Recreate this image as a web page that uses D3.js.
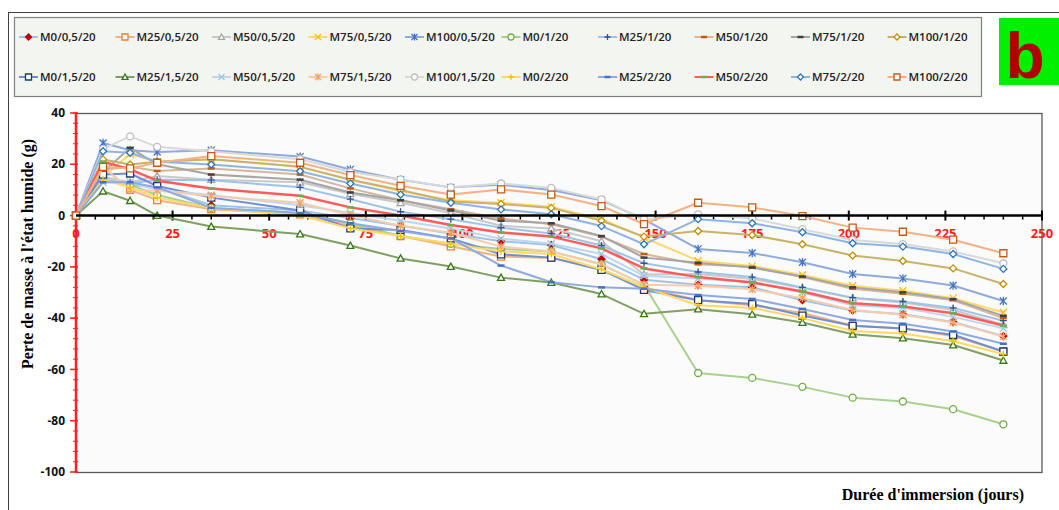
<!DOCTYPE html>
<html>
<head>
<meta charset="utf-8">
<script src="https://cdn.jsdelivr.net/npm/d3@7"></script>
<style>
  body { margin: 0; background: #fff; }
  svg { display: block; }
</style>
</head>
<body>
<div id="chart"></div>
<script>
// immersion days (x) and the 20 series
const days = [0, 7, 14, 21, 35, 58, 71, 84, 97, 110, 123, 136, 147, 161, 175, 188, 201, 214, 227, 240];

const seriesNames = [
  "M0/0,5/20", "M25/0,5/20", "M50/0,5/20", "M75/0,5/20", "M100/0,5/20",
  "M0/1/20", "M25/1/20", "M50/1/20", "M75/1/20", "M100/1/20",
  "M0/1,5/20", "M25/1,5/20", "M50/1,5/20", "M75/1,5/20", "M100/1,5/20",
  "M0/2/20", "M25/2/20", "M50/2/20", "M75/2/20", "M100/2/20"
];

const m0_05   = [0, 14, 12, 11, 4, 2, -1, -4, -7, -10, -11.5, -17, -25, -27, -28, -33, -37, -38.5, -41.5, -47];
const m25_05  = [0, 19, 10, 6, 2.5, 0.5, -4, -8, -12, -16, -16.5, -21, -28, -33, -35, -38, -43, -44, -47, -53];
const m50_05  = [0, 15, 13, 15.4, 14, 13, 8.5, 5, 1, -4, -5, -10, -23, -22.8, -24.7, -28.3, -32.2, -33.9, -36.8, -42.6];
const m75_05  = [0, 15, 24, 21, 22, 19, 14, 9.5, 6, 5, 3.4, -1.4, -8.6, -17.6, -19.7, -23.2, -27.4, -29.3, -32.2, -37.8];
const m100_05 = [0, 28.3, 25.5, 24.8, 25.5, 23, 18, 14, 11, 12, 10, 6, -1.5, -13, -14.6, -18.2, -22.8, -24.5, -27.3, -33.3];
const m0_1    = [0, 14, 12, 8, 3, 1, -3, -8, -11, -13, -14, -19, -27, -61.4, -63.3, -66.8, -71, -72.5, -75.5, -81.4];
const m25_1   = [0, 14, 12.5, 14, 13.8, 11, 6.4, 1.5, -1.4, -4.7, -7, -11.7, -18.6, -22, -24, -28, -32, -33.5, -36, -41];
const m50_1   = [0, 18, 19, 17.4, 18.4, 16, 10.6, 6, 2.5, -1.1, -3.4, -8.2, -15, -19, -20, -24, -28.5, -30.5, -33, -40];
const m75_1   = [0, 17, 26.4, 20, 16, 14, 9, 6, 2, -2, -3, -8, -16.4, -18.4, -20.3, -23.8, -28, -29.9, -32.6, -39.1];
const m100_1  = [0, 21.9, 19.9, 21, 22, 19, 14, 10, 5.5, 4.5, 3, -2, -8.2, -6, -7.6, -11.2, -15.6, -17.7, -20.6, -26.7];
const m0_15   = [0, 16, 16.4, 11.5, 7, 2, -5, -5.6, -8.9, -15.1, -16.4, -21.2, -29, -33, -34.5, -39, -43, -44, -46.5, -53];
const m25_15  = [0, 9.5, 5.8, 0, -4.3, -7.2, -11.7, -16.7, -19.9, -24.2, -26.1, -30.6, -38.3, -36.5, -38.5, -41.7, -46.3, -47.8, -50.5, -56.5];
const m50_15  = [0, 13, 13, 10, 8, 4, 1, -2, -5, -9, -11, -15, -23.5, -24.5, -26, -30, -35, -36, -39.5, -44];
const m75_15  = [0, 19, 10, 9.7, 7.6, 5, 0.2, -4, -6.7, -12.1, -14, -19, -27, -27.4, -28.7, -32.2, -36.8, -38.7, -41.7, -47.2];
const m100_15 = [0, 26, 30.9, 26.8, 25, 22, 17, 14.1, 11, 12.5, 10.8, 6.3, -1.5, 0.5, -1.1, -5.3, -9.5, -11.1, -14, -18.6];
const m0_2    = [0, 14, 11, 7, 3, 0, -5, -8, -11, -14, -15, -21, -28, -35, -36, -40, -45, -46, -49, -54];
const m25_2   = [0, 13, 13, 11, 3, 1, -3, -6, -8.9, -19.5, -26, -28, -28.5, -31, -32.5, -36.4, -40.7, -42.2, -45.2, -50];
const m50_2   = [0, 21, 18, 13.6, 10.6, 7.7, 3.2, 0, -3.7, -6.6, -8.2, -12.8, -20.6, -24, -26.1, -29.6, -34.2, -35.5, -38.1, -42.9];
const m75_2   = [0, 25.1, 24.5, 21, 19.9, 17.3, 12.5, 8.2, 5, 2.4, 0.5, -4.1, -11.2, -1.4, -3, -6.5, -10.8, -12.1, -15, -20.8];
const m100_2  = [0, 19, 18.4, 20.6, 23.2, 20.6, 15.8, 11.6, 8.2, 10.2, 8.2, 3.7, -3.3, 5, 3.2, -0.2, -4.7, -6.3, -9.4, -14.7];

const seriesValues = [m0_05, m25_05, m50_05, m75_05, m100_05, m0_1, m25_1, m50_1, m75_1, m100_1,
                      m0_15, m25_15, m50_15, m75_15, m100_15, m0_2, m25_2, m50_2, m75_2, m100_2];

// line colour, marker colour, marker shape
const lineColors = ["#9dc3e6", "#f4b183", "#c9c9c9", "#ffd966", "#8faadc", "#a9d18e", "#9dc3e6", "#d6b59a", "#a5a5a5", "#c9b26b",
                    "#6f8fd0", "#7f9f63", "#bdd7ee", "#f8cbad", "#d9d9d9", "#ffd966", "#8faadc", "#ff5b5b", "#8fb4e3", "#f4b183"];
const markerColors = ["#c00000", "#ed7d31", "#a5a5a5", "#ffc000", "#4472c4", "#70ad47", "#2f5597", "#c55a11", "#404040", "#bf9000",
                      "#1f3864", "#38761d", "#9dc3e6", "#f4a460", "#bfbfbf", "#ffc000", "#4472c4", "#70ad47", "#2e75b6", "#c55a11"];
const markerShapes = ["diamondFill", "square", "triangle", "x", "star", "circle", "plus", "dash", "dash", "diamond",
                      "square", "triangle", "x", "star", "circle", "plus", "dash", "dash", "diamond", "square"];

const xTicks = [0, 25, 50, 75, 100, 125, 150, 175, 200, 225, 250];
const yTicks = [40, 20, 0, -20, -40, -60, -80, -100];

const width = 1059, height = 510;
const plotLeft = 76, plotRight = 1042, plotTop = 113, plotBottom = 472;

const svg = d3.select("#chart").append("svg")
  .attr("width", width)
  .attr("height", height);

const x = d3.scaleLinear().domain([0, 250]).range([plotLeft, plotRight]);
const y = d3.scaleLinear().domain([-100, 40]).range([plotBottom, plotTop]);

// outer frame
svg.append("rect")
  .attr("x", 8.5).attr("y", 12.5)
  .attr("width", 1060).attr("height", 520)
  .attr("fill", "#fff").attr("stroke", "#404040").attr("stroke-width", 1);

// legend box
svg.append("rect")
  .attr("x", 14.5).attr("y", 17.5)
  .attr("width", 967).attr("height", 79)
  .attr("fill", "#f3f5f0").attr("stroke", "#7f7f7f").attr("stroke-width", 1.2);

// "b" panel tag
svg.append("rect")
  .attr("x", 999).attr("y", 18).attr("width", 60).attr("height", 67)
  .attr("fill", "#00f000");
svg.append("text")
  .attr("x", 1025).attr("y", 78)
  .attr("text-anchor", "middle")
  .attr("font-family", "Liberation Sans, Arial, sans-serif")
  .attr("font-weight", "bold")
  .attr("font-size", 64)
  .attr("fill", "#b00000")
  .text("b");

// plot area
svg.append("rect")
  .attr("x", plotLeft).attr("y", plotTop + 0.5)
  .attr("width", plotRight - plotLeft).attr("height", plotBottom - plotTop)
  .attr("fill", "#fbfbfb").attr("stroke", "#595959").attr("stroke-width", 1.3);

function markerPath(shape, s) {
  switch (shape) {
    case "x": return `M${-s},${-s}L${s},${s}M${-s},${s}L${s},${-s}`;
    case "plus": return `M${-s},0L${s},0M0,${-s}L0,${s}`;
    case "star": return `M${-s},${-s}L${s},${s}M${-s},${s}L${s},${-s}M0,${-s * 1.2}L0,${s * 1.2}`;
    case "dash": return `M${-s},0L${s},0`;
    case "square": return `M${-s},${-s}H${s}V${s}H${-s}Z`;
    case "triangle": return `M0,${-s}L${s},${s * 0.8}L${-s},${s * 0.8}Z`;
    case "diamond":
    case "diamondFill": return `M0,${-s}L${s},0L0,${s}L${-s},0Z`;
    case "circle": return d3.symbol(d3.symbolCircle, Math.PI * s * s)();
  }
}

function drawMarker(g, shape, color, px, py, s) {
  const filled = shape === "diamondFill";
  const open = ["square", "triangle", "diamond", "circle"].includes(shape);
  g.append("path")
    .attr("transform", `translate(${px},${py})`)
    .attr("d", markerPath(shape, s))
    .attr("fill", filled ? color : (open ? "#fff" : "none"))
    .attr("stroke", color)
    .attr("stroke-width", shape === "dash" ? 2.5 : 1.3);
}

// x axis along y = 0: minor ticks every 5, major every 25
const xAxisG = svg.append("g");
xAxisG.selectAll("line.minor")
  .data(d3.range(0, 251, 5).filter(v => v % 25 !== 0))
  .join("line")
  .attr("class", "minor")
  .attr("x1", d => x(d)).attr("x2", d => x(d))
  .attr("y1", y(0)).attr("y2", y(0) + 4)
  .attr("stroke", "#000").attr("stroke-width", 1.5);
xAxisG.selectAll("line.major")
  .data(xTicks)
  .join("line")
  .attr("class", "major")
  .attr("x1", d => x(d)).attr("x2", d => x(d))
  .attr("y1", y(0) - 5).attr("y2", y(0) + 5)
  .attr("stroke", "#000").attr("stroke-width", 2);

// y axis (red) with minor ticks every 4
const yAxisG = svg.append("g");
yAxisG.selectAll("line.minor")
  .data(d3.range(-100, 41, 4))
  .join("line")
  .attr("class", "minor")
  .attr("x1", plotLeft - 3).attr("x2", plotLeft + 2)
  .attr("y1", d => y(d)).attr("y2", d => y(d))
  .attr("stroke", "#ff2020").attr("stroke-width", 1);
yAxisG.selectAll("line.major")
  .data(yTicks)
  .join("line")
  .attr("class", "major")
  .attr("x1", plotLeft - 6).attr("x2", plotLeft + 2)
  .attr("y1", d => y(d)).attr("y2", d => y(d))
  .attr("stroke", "#ff2020").attr("stroke-width", 1.5);
yAxisG.append("line")
  .attr("x1", plotLeft).attr("x2", plotLeft)
  .attr("y1", plotTop).attr("y2", plotBottom)
  .attr("stroke", "#ff2020").attr("stroke-width", 2.5);

yAxisG.selectAll("text")
  .data(yTicks)
  .join("text")
  .attr("x", plotLeft - 11).attr("y", d => y(d))
  .attr("dy", "0.35em")
  .attr("text-anchor", "end")
  .attr("font-family", "Open Sans, Liberation Sans, sans-serif")
  .attr("font-weight", "bold")
  .attr("font-size", 12)
  .attr("fill", "#111")
  .text(d => d);

// series lines and markers
const line = d3.line().x((d, i) => x(days[i])).y(d => y(d));
const plotG = svg.append("g");
seriesValues.forEach((vals, k) => {
  plotG.append("path")
    .datum(vals)
    .attr("d", line)
    .attr("fill", "none")
    .attr("stroke", lineColors[k])
    .attr("stroke-width", k === 17 ? 2.5 : 2)
    .attr("stroke-linejoin", "round");
  vals.forEach((v, i) => drawMarker(plotG, markerShapes[k], markerColors[k], x(days[i]), y(v), 3.5));
});

// main x-axis line drawn over the series
svg.append("line")
  .attr("x1", plotLeft).attr("x2", plotRight)
  .attr("y1", y(0)).attr("y2", y(0))
  .attr("stroke", "#000").attr("stroke-width", 2.5);

xAxisG.selectAll("text")
  .data(xTicks)
  .join("text")
  .attr("x", d => x(d)).attr("y", y(0) + 22)
  .attr("text-anchor", "middle")
  .attr("font-family", "Open Sans, Liberation Sans, sans-serif")
  .attr("font-weight", "bold")
  .attr("font-size", 13)
  .attr("fill", "#ff1a1a")
  .text(d => d);

// axis titles
svg.append("text")
  .attr("transform", `translate(33, 254) rotate(-90)`)
  .attr("text-anchor", "middle")
  .attr("font-family", "Liberation Serif, Times New Roman, serif")
  .attr("font-weight", "bold")
  .attr("font-size", 16)
  .attr("fill", "#000")
  .text("Perte de masse à l'état humide (g)");

svg.append("text")
  .attr("x", 1024).attr("y", 500)
  .attr("text-anchor", "end")
  .attr("font-family", "Liberation Serif, Times New Roman, serif")
  .attr("font-weight", "bold")
  .attr("font-size", 16)
  .attr("fill", "#000")
  .text("Durée d'immersion (jours)");

// legend: 2 rows x 10 columns
const legendG = svg.append("g");
seriesNames.forEach((name, k) => {
  const col = k % 10, row = Math.floor(k / 10);
  const tx = 40 + col * 96.5;
  const ty = 37 + row * 40;
  legendG.append("line")
    .attr("x1", tx - 21).attr("x2", tx - 2)
    .attr("y1", ty).attr("y2", ty)
    .attr("stroke", lineColors[k]).attr("stroke-width", 2);
  drawMarker(legendG, markerShapes[k], markerColors[k], tx - 11.5, ty, 3);
  legendG.append("text")
    .attr("x", tx).attr("y", ty)
    .attr("dy", "0.35em")
    .attr("font-family", "Open Sans, Liberation Sans, sans-serif")
    .attr("font-weight", 600)
    .attr("font-size", 11.5)
    .attr("fill", "#222")
    .text(name);
});
</script>
</body>
</html>
